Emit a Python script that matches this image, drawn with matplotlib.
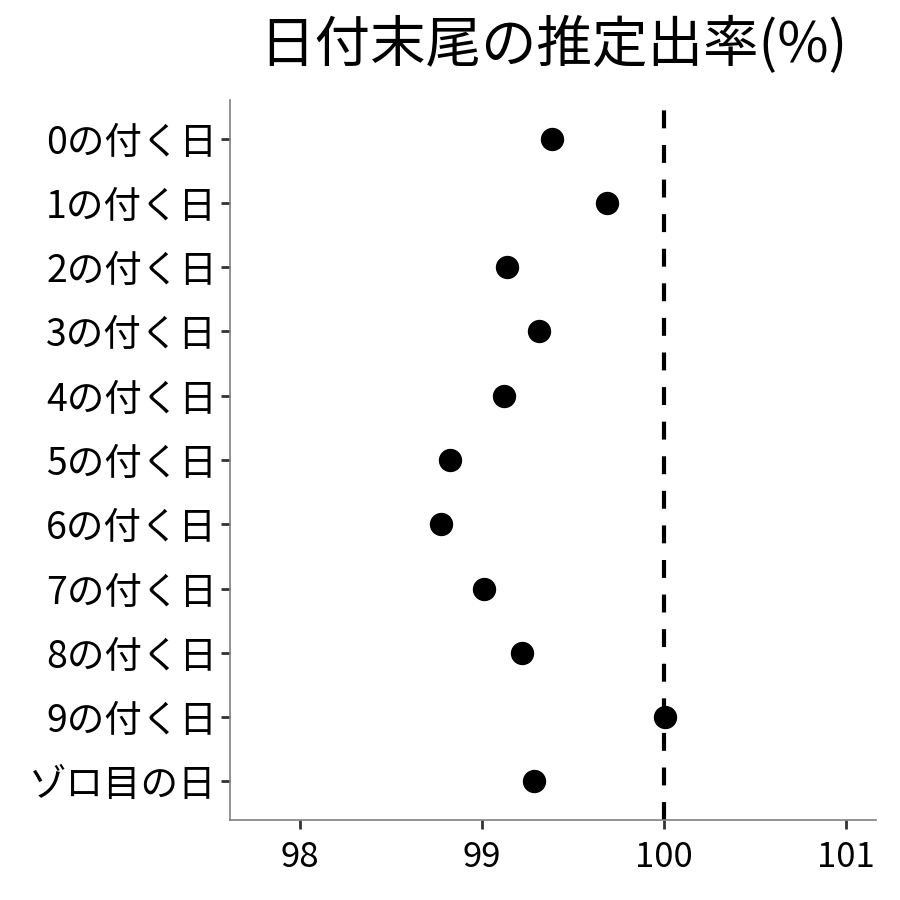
import numpy as np
import matplotlib.pyplot as plt

plt.rcParams['font.family'] = ['Noto Sans CJK JP', 'DejaVu Sans']

# data
labels = ['0の付く日', '1の付く日', '2の付く日', '3の付く日', '4の付く日',
          '5の付く日', '6の付く日', '7の付く日', '8の付く日', '9の付く日', 'ゾロ目の日']
rates = [99.385, 99.687, 99.137, 99.313, 99.121,
         98.824, 98.775, 99.011, 99.220, 100.005, 99.286]
ref_line = 100
xticks = [98, 99, 100, 101]

fig = plt.figure(figsize=(9, 9), dpi=100)
ax = fig.add_axes([230/900, 80/900, 646/900, 720/900])

y = np.arange(len(labels))[::-1] + 1
ax.axvline(ref_line, color='black', lw=3, linestyle=(0, (4.3, 4.0)), zorder=1)
ax.plot(rates, y, 'o', color='black', markersize=15.8, zorder=2)

ax.set_xlim(97.615, 101.165)
ax.set_ylim(0.4, len(labels) + 0.6)
ax.set_yticks(y)
ax.set_yticklabels(labels)
ax.set_xticks(xticks)
ax.set_xticklabels([str(t) for t in xticks])

for s in ['top', 'right']:
    ax.spines[s].set_visible(False)
for s in ['left', 'bottom']:
    ax.spines[s].set_color('#808080')
    ax.spines[s].set_linewidth(1.2)
ax.tick_params(axis='both', length=6.5, width=2, color='#333333',
               labelcolor='black')
ax.tick_params(axis='y', labelsize=27, pad=3)
ax.tick_params(axis='x', labelsize=25, pad=8)

ax.set_title('日付末尾の推定出率(%)', fontsize=40, pad=27)

fig.savefig('out.png', dpi=100)
